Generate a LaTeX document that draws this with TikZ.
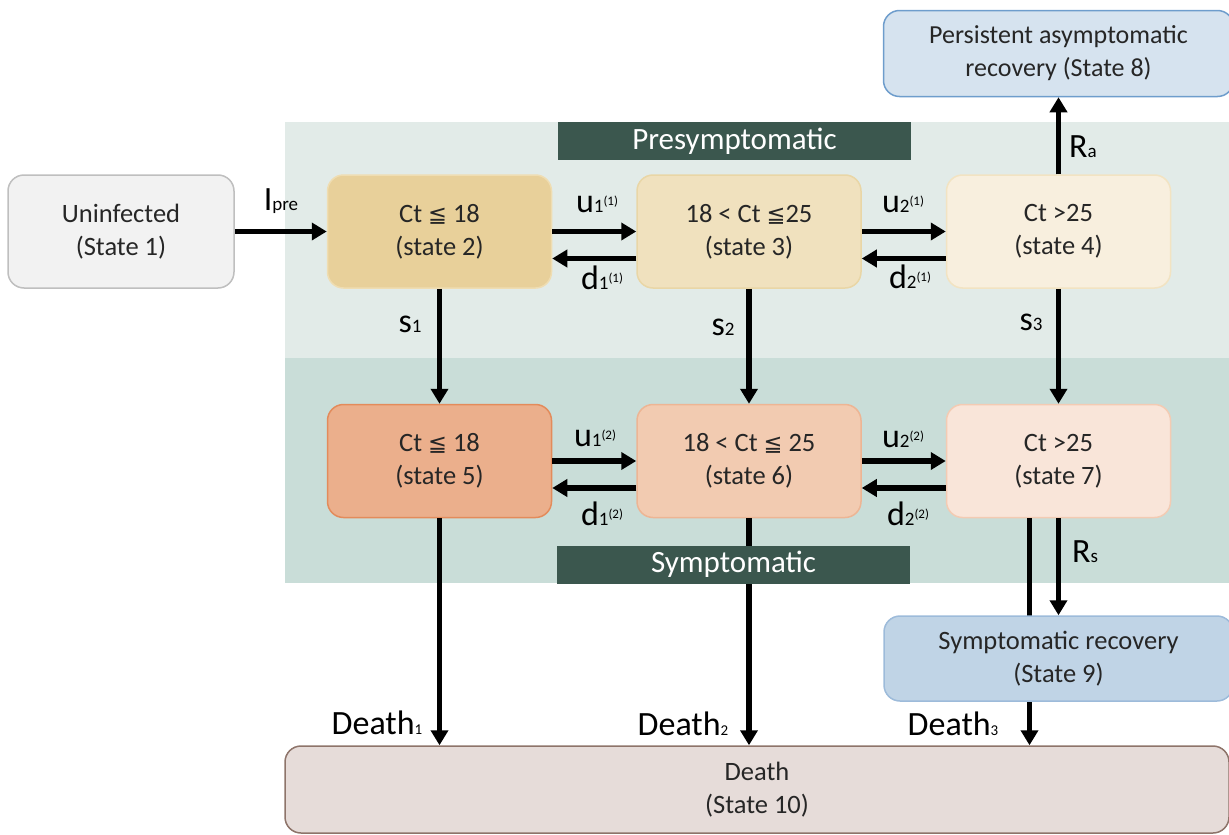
\documentclass[tikz,border=0pt]{standalone}
\usepackage{fontspec}
\setmainfont{Carlito}
\newfontfamily\leqfont[Scale=0.85]{DejaVu Sans}
\usepackage{xcolor}
\usepackage{tikz}
\usetikzlibrary{arrows.meta, positioning}
\definecolor{bandpre}{HTML}{E2EBE8}
\definecolor{bandsym}{HTML}{C9DDD8}
\definecolor{tagdark}{HTML}{3B574E}
\definecolor{textgrey}{HTML}{262626}
\definecolor{fillA}{HTML}{F2F2F2}\definecolor{drawA}{HTML}{BFBFBF}
\definecolor{fillB}{HTML}{E8D09A}\definecolor{drawB}{HTML}{EFDDB2}
\definecolor{fillC}{HTML}{F0E1BE}\definecolor{drawC}{HTML}{E9D6A6}
\definecolor{fillD}{HTML}{F8EFDE}\definecolor{drawD}{HTML}{F2E3C2}
\definecolor{fillE}{HTML}{EBAF8C}\definecolor{drawE}{HTML}{E38B5B}
\definecolor{fillF}{HTML}{F2CBB1}\definecolor{drawF}{HTML}{EDB594}
\definecolor{fillG}{HTML}{F9E5D9}\definecolor{drawG}{HTML}{F3CBB3}
\definecolor{fillH}{HTML}{D6E3EF}\definecolor{drawH}{HTML}{6E9DCC}
\definecolor{fillI}{HTML}{C0D4E6}\definecolor{drawI}{HTML}{9DBBDA}
\definecolor{fillJ}{HTML}{E6DCD9}\definecolor{drawJ}{HTML}{8E746A}
\newcommand{\ctleq}{{\leqfont ≦}}
\newcommand{\sublab}[2]{#1{\fontsize{19}{19}\selectfont #2}}
\newcommand{\ratelab}[3]{\sublab{#1}{#2}\raisebox{7pt}{\fontsize{13}{13}\selectfont #3}}
\newcommand{\deathlab}[1]{Death{\fontsize{15}{15}\selectfont #1}}

\begin{document}
\begin{tikzpicture}[
    x=1pt, y=1pt,
    node distance=115pt and 84pt,
    state/.style={rectangle, rounded corners=16pt, line width=1.5pt,
                  minimum width=224pt, minimum height=113pt, align=center,
                  text=textgrey, font=\fontsize{26.5}{33}\selectfont},
    tag/.style={rectangle, fill=tagdark, text=white, minimum width=353pt,
                minimum height=38pt, inner sep=0pt, font=\fontsize{31}{31}\selectfont},
    arr/.style={-{Triangle[length=15pt,width=17pt]}, line width=5.5pt},
    lab/.style={anchor=base, inner sep=0pt, font=\fontsize{34}{34}\selectfont},
]
    \useasboundingbox (0,0) rectangle (1229,-835);

    % background bands
    \fill[bandpre] (285,-122) rectangle (1229,-358);
    \fill[bandsym] (285,-358) rectangle (1229,-583);
    \node[tag] (pretag) at (734.5,-141) {Presymptomatic};

    \node[state, fill=fillB, draw=drawB] (st2) at (439.5,-231.5) {Ct \ctleq{} 18\\(state 2)};
    \node[state, fill=fillC, draw=drawC, right=of st2] (st3) {18 < Ct \ctleq{}25\\(state 3)};
    \node[state, fill=fillD, draw=drawD, right=of st3] (st4) {Ct >25\\(state 4)};
    \node[state, fill=fillA, draw=drawA, minimum width=226pt, left=92pt of st2] (st1) {Uninfected\\(State 1)};
    \node[state, fill=fillH, draw=drawH, minimum width=350pt, minimum height=86pt,
          font=\fontsize{26}{33}\selectfont, above=77pt of st4] (st8) {Persistent asymptomatic\\recovery (State 8)};

    \node[state, fill=fillE, draw=drawE, below=of st2] (st5) {Ct \ctleq{} 18\\(state 5)};
    \node[state, fill=fillF, draw=drawF, below=of st3] (st6) {18 < Ct \ctleq{} 25\\(state 6)};
    \node[state, fill=fillG, draw=drawG, below=of st4] (st7) {Ct >25\\(state 7)};
    \node[state, fill=fillJ, draw=drawJ, minimum width=944pt, minimum height=87pt] (st10) at (757,-789.5) {Death\\(State 10)};

    % death from state 7 runs behind state 9
    \draw[arr] ([xshift=-29pt]st7.south) -- ([xshift=-29pt]st7.south |- st10.north);
    \node[state, fill=fillI, draw=drawI, minimum width=349pt, minimum height=85pt,
          below=97pt of st7] (st9) {Symptomatic recovery\\(State 9)};

    \draw[arr] (st1) -- (st2);
    \draw[arr] (st2) -- (st3);
    \draw[arr] (st3) -- (st4);
    \draw[arr] ([yshift=-27pt]st3.west) -- ([yshift=-27pt]st2.east);
    \draw[arr] ([yshift=-27pt]st4.west) -- ([yshift=-27pt]st3.east);
    \draw[arr] (st5) -- (st6);
    \draw[arr] (st6) -- (st7);
    \draw[arr] ([yshift=-27pt]st6.west) -- ([yshift=-27pt]st5.east);
    \draw[arr] ([yshift=-27pt]st7.west) -- ([yshift=-27pt]st6.east);
    \draw[arr] (st2) -- (st5);
    \draw[arr] (st3) -- (st6);
    \draw[arr] (st4) -- (st7);
    \draw[arr] (st4) -- (st8);
    \draw[arr] (st7) -- (st9);
    \draw[arr] (st5) -- (st5 |- st10.north);
    \draw[arr] (st6) -- (st6 |- st10.north);

    % tag sits over the death arrow
    \node[tag] (symtag) at (733.5,-564.5) {Symptomatic};

    % rate labels
    \node[lab] (ipre) at (281,-210) {\sublab{I}{pre}};
    \node[lab] (u11) at (597,-212) {\ratelab{u}{1}{(1)}};
    \node[lab] (d11) at (602,-289) {\ratelab{d}{1}{(1)}};
    \node[lab] (u21) at (903,-212) {\ratelab{u}{2}{(1)}};
    \node[lab] (d21) at (910,-288) {\ratelab{d}{2}{(1)}};
    \node[lab] (u12) at (595,-446) {\ratelab{u}{1}{(2)}};
    \node[lab] (d12) at (602,-525) {\ratelab{d}{1}{(2)}};
    \node[lab] (u22) at (903,-447) {\ratelab{u}{2}{(2)}};
    \node[lab] (d22) at (908,-525) {\ratelab{d}{2}{(2)}};
    \node[lab] (s1) at (410,-332) {\sublab{s}{1}};
    \node[lab] (s2) at (723,-335) {\sublab{s}{2}};
    \node[lab] (s3) at (1031,-330) {\sublab{s}{3}};
    \node[lab] (ra) at (1083,-157) {\sublab{R}{a}};
    \node[lab] (rs) at (1085,-562) {\sublab{R}{s}};
    \node[lab] (death1) at (377,-734) {\deathlab{1}};
    \node[lab] (death2) at (683,-735) {\deathlab{2}};
    \node[lab] (death3) at (953,-735) {\deathlab{3}};
\end{tikzpicture}
\end{document}
